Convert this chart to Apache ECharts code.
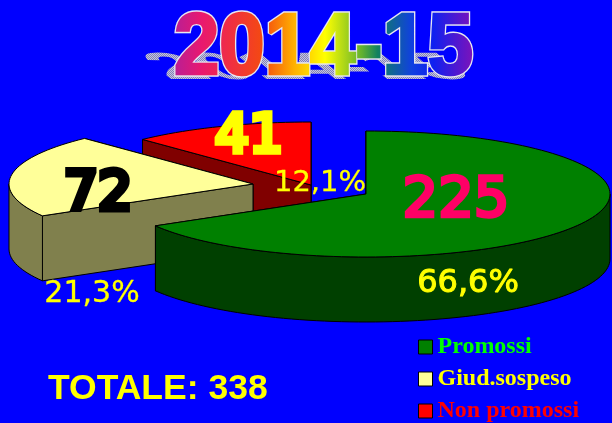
<!DOCTYPE html>
<html><head><meta charset="utf-8">
<style>html,body{margin:0;padding:0;background:#0000ff}#c{width:612px;height:423px}</style>
<script src="https://cdn.jsdelivr.net/npm/echarts@6/dist/echarts.min.js"></script>
</head><body><div id="c"></div>
<script>
const categories = ['Promossi', 'Giud.sospeso', 'Non promossi'];
const values = [225, 72, 41];
const percentLabels = ['66,6%', '21,3%', '12,1%'];
const totalLabel = 'TOTALE: 338';
const titleText = '2014-15';

const total = values.reduce((a, b) => a + b, 0);
const topColors = ['#008000', '#ffff99', '#ff0000'];
const sideColors = ['#004000', '#80804d', '#800000'];
const legendColors = ['#00ff00', '#ffff00', '#ff0000'];
const centers = [[366, 194], [253, 184], [311, 185]];
const RX = 244, RY = 63, DEPTH = 65;

function pt(c, deg, dy) {
  const r = deg * Math.PI / 180;
  return [c[0] + RX * Math.sin(r), c[1] - RY * Math.cos(r) + (dy || 0)];
}
function arc(c, a0, a1, dy) {
  const out = [], n = Math.max(2, Math.ceil(Math.abs(a1 - a0) / 2));
  for (let i = 0; i <= n; i++) out.push(pt(c, a0 + (a1 - a0) * i / n, dy));
  return out;
}
function poly(points, fill) {
  return { type: 'polygon', shape: { points }, style: { fill, stroke: '#000', lineWidth: 1 } };
}
function sliceSeries(i) {
  const start = values.slice(0, i).reduce((a, b) => a + b, 0);
  return {
    type: 'custom', name: categories[i], coordinateSystem: 'none', silent: true, z: i === 0 ? 4 : (i === 1 ? 3 : 2),
    itemStyle: { color: topColors[i] },
    data: [[values[i], start]],
    renderItem(params, api) {
      const a0 = api.value(1) / total * 360, a1 = (api.value(1) + api.value(0)) / total * 360;
      const c = centers[i], children = [];
      [a1, a0].forEach(a => {
        const p = pt(c, a);
        children.push(poly([c, p, pt(c, a, DEPTH), [c[0], c[1] + DEPTH]], sideColors[i]));
      });
      const s0 = Math.max(a0, 90), s1 = Math.min(a1, 270);
      if (s1 > s0) children.push(poly(arc(c, s0, s1, 0).concat(arc(c, s1, s0, DEPTH)), sideColors[i]));
      children.push(poly([c].concat(arc(c, a0, a1, 0)), topColors[i]));
      return { type: 'group', children };
    }
  };
}
const labelFont = '"DejaVu Sans"';
const valuePos = [[456, 201, 56, '#ff0066', 3.5], [98, 195, 54, '#000000', 6], [249, 138, 54, '#ffff00', 5.5]];
const pctPos = [[468, 284, 32, 1], [92, 294, 30, 0.3], [320, 183, 29, 0.3]];
const labelSeries = {
  type: 'custom', name: 'labels', coordinateSystem: 'none', silent: true, z: 6,
  data: values.map((v, i) => [v, i]),
  renderItem(params, api) {
    const i = api.value(1), vp = valuePos[i], pp = pctPos[i];
    return { type: 'group', children: [
      { type: 'text', x: vp[0], y: vp[1], style: { text: String(api.value(0)), font: `${vp[2]}px ${labelFont}`, fill: vp[3], stroke: vp[3], lineWidth: vp[4], lineJoin: 'round', align: 'center', verticalAlign: 'middle' } },
      { type: 'text', x: pp[0], y: pp[1], style: { text: percentLabels[i], font: `${pp[2]}px ${labelFont}`, fill: '#ffff00', stroke: '#ffff00', lineWidth: pp[3], align: 'center', verticalAlign: 'middle' } }
    ] };
  }
};
const titleStops = [[0, '#b0209c'], [0.1, '#e81870'], [0.2, '#f03040'], [0.3, '#f44a10'], [0.4, '#ffb000'], [0.5, '#ffff00'],
 [0.62, '#60b030'], [0.67, '#108060'], [0.78, '#1040e0'], [0.85, '#1020f0'], [1, '#9010b0']];
const titleGradient = { type: 'linear', x: 0, y: 0, x2: 1, y2: 0, colorStops: titleStops.map(s => ({ offset: s[0], color: s[1] })) };
const pcv = document.createElement('canvas'); pcv.width = pcv.height = 2;
const pc = pcv.getContext('2d');
pc.fillStyle = '#c8c8d8'; pc.fillRect(0, 0, 2, 2);
pc.fillStyle = '#8080c0'; pc.fillRect(0, 0, 1, 1); pc.fillRect(1, 1, 1, 1);

function layer(name, zlevel, z, element, blendMode) {
  const s = { type: 'custom', name, coordinateSystem: 'none', silent: true, zlevel, z, data: [[0]], renderItem: () => element };
  if (blendMode) s.blendMode = blendMode;
  return s;
}
const titleTf = { x: 174, y: 93, scaleX: 0.858, scaleY: 0.91 };
const titleFont = 'bold 95px "Liberation Sans"';
const decorSeries = [
  layer('titleShadow', 1, 1, { type: 'text', x: 179, y: 88, skewX: 0.9, scaleY: 0.4, scaleX: 0.88,
    style: { text: titleText, font: titleFont, fill: '#8080c0', verticalAlign: 'bottom' } }),
  layer('titleShadowHatch', 1, 2, { type: 'rect', shape: { x: 130, y: 40, width: 350, height: 50 },
    style: { fill: { image: pcv, repeat: 'repeat' } } }, 'source-atop'),
  layer('titleOutline', 2, 1, Object.assign({ type: 'text', style: { text: titleText, font: titleFont, fill: '#e8e8f0', stroke: '#e8e8f0', lineWidth: 6, lineJoin: 'round', verticalAlign: 'bottom' } }, titleTf)),
  layer('titleFill', 3, 1, Object.assign({ type: 'text', style: { text: titleText, font: titleFont, fill: '#ffffff', stroke: '#ffffff', lineWidth: 3, lineJoin: 'round', verticalAlign: 'bottom' } }, titleTf)),
  layer('titleGradient', 3, 2, { type: 'rect', shape: { x: 170, y: 0, width: 310, height: 95 },
    style: { fill: titleGradient } }, 'source-atop')
];

const chart = echarts.init(document.getElementById('c'), null, { renderer: 'canvas' });
chart.setOption({
  animation: false,
  backgroundColor: '#0000ff',
  legend: {
    data: categories.map((n, i) => ({ name: n, textStyle: { color: legendColors[i] } })),
    orient: 'vertical', left: 413, top: 330, height: 110, itemWidth: 14, itemHeight: 14, itemGap: 8, selectedMode: false,
    icon: 'rect', itemStyle: { borderColor: '#000', borderWidth: 1 },
    textStyle: { fontFamily: '"Liberation Serif"', fontWeight: 'bold', fontSize: 24 }
  },
  series: [sliceSeries(2), sliceSeries(1), sliceSeries(0), labelSeries].concat(decorSeries),
  graphic: [
    { type: 'text', z: 11, left: 48, top: 371,
      style: { text: totalLabel, font: 'bold 35.5px "Liberation Sans"', fill: '#ffff00' } }
  ]
});
</script></body></html>
